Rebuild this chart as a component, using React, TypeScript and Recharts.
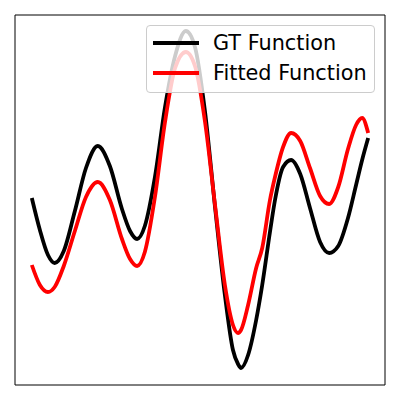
import React from 'react';
import { LineChart, Line, XAxis, YAxis, Legend, ReferenceArea } from 'recharts';

// sample positions along the x range (0..1)
const xs = [
  0, 0.024, 0.048, 0.068, 0.095, 0.128, 0.161, 0.196, 0.232, 0.268,
  0.292, 0.313, 0.336, 0.366, 0.396, 0.426, 0.458, 0.485, 0.515, 0.545,
  0.574, 0.598, 0.613, 0.622, 0.643, 0.667, 0.685, 0.708, 0.723, 0.747,
  0.771, 0.798, 0.827, 0.857, 0.884, 0.911, 0.94, 0.964, 0.982, 1,
];

const gtValues = [
  0.02, -0.3, -0.55, -0.63, -0.51, -0.11, 0.32, 0.54, 0.34, -0.09,
  -0.31, -0.39, -0.26, 0.23, 0.93, 1.44, 1.69, 1.53, 0.88, -0.08,
  -0.95, -1.5, -1.64, -1.68, -1.55, -1.2, -0.85, -0.32, 0.0, 0.33,
  0.4, 0.26, -0.08, -0.42, -0.53, -0.46, -0.18, 0.15, 0.4, 0.62,
];

const fittedValues = [
  -0.65, -0.85, -0.92, -0.87, -0.66, -0.31, 0.03, 0.18, 0.0, -0.39,
  -0.59, -0.66, -0.52, 0.03, 0.78, 1.32, 1.48, 1.34, 0.78, -0.06,
  -0.85, -1.25, -1.33, -1.3, -1.05, -0.68, -0.48, 0.0, 0.23, 0.53,
  0.67, 0.59, 0.32, 0.04, -0.04, 0.13, 0.51, 0.75, 0.82, 0.67,
];

const seriesNames = ['GT Function', 'Fitted Function'];
const seriesColors = ['#000000', '#ff0000'];

const data = xs.map((x, i) => ({ x, gt: gtValues[i], fitted: fittedValues[i] }));

const xDomain: [number, number] = [-0.05, 1.05];
const yDomain: [number, number] = [-1.85, 1.85];

const LegendBox = () => (
  <div
    style={{
      boxSizing: 'border-box',
      width: 229,
      height: 68,
      background: 'rgba(255,255,255,0.8)',
      border: '1px solid #cccccc',
      borderRadius: 4,
      padding: '2px 0 0 6px',
      fontFamily: '"DejaVu Sans", sans-serif',
      fontSize: 20.8,
      color: '#000',
    }}
  >
    {seriesNames.map((name, i) => (
      <div key={name} style={{ display: 'flex', alignItems: 'center', height: 30 }}>
        <div style={{ width: 46, height: 4, background: seriesColors[i], marginRight: 14 }} />
        <span style={{ lineHeight: '30px' }}>{name}</span>
      </div>
    ))}
  </div>
);

export default function App() {
  return (
    <div style={{ position: 'absolute', left: 0, top: 0, width: 400, height: 400, background: '#fff' }}>
      <LineChart width={400} height={400} data={data} margin={{ top: 15, right: 15, bottom: 15, left: 15 }}>
        <XAxis dataKey="x" type="number" domain={xDomain} hide allowDataOverflow />
        <YAxis type="number" domain={yDomain} hide allowDataOverflow />
        <ReferenceArea
          x1={xDomain[0]}
          x2={xDomain[1]}
          y1={yDomain[0]}
          y2={yDomain[1]}
          fill="none"
          fillOpacity={0}
          stroke="#000"
          strokeWidth={1}
          strokeOpacity={1}
        />
        <Line
          type="monotone"
          dataKey="gt"
          name={seriesNames[0]}
          stroke={seriesColors[0]}
          strokeWidth={3.8}
          dot={false}
          isAnimationActive={false}
        />
        <Line
          type="monotone"
          dataKey="fitted"
          name={seriesNames[1]}
          stroke={seriesColors[1]}
          strokeWidth={3.8}
          dot={false}
          isAnimationActive={false}
        />
        <Legend
          layout="horizontal"
          verticalAlign="middle"
          align="center"
          content={<LegendBox />}
          wrapperStyle={{ left: 146, top: 25, width: 229, height: 68 }}
        />
      </LineChart>
    </div>
  );
}
